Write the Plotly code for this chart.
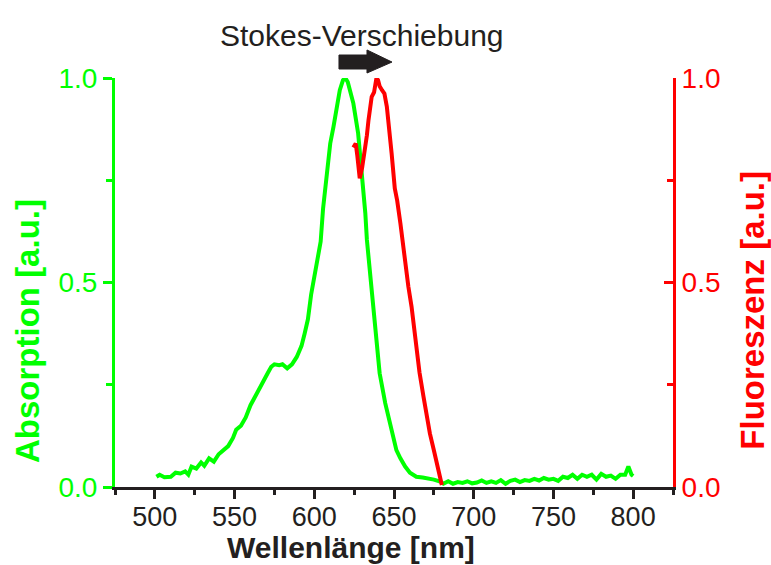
import plotly.graph_objects as go

# Absorption spectrum (green, left axis)
abs_wl = [501, 503, 506, 510, 513, 516, 519, 521, 523, 526, 529, 531, 534, 537, 540,
          543, 546, 549, 551, 554, 557, 560, 562, 565, 568, 571, 573, 575, 578, 580,
          583, 586, 589, 592, 594, 596, 598, 600, 602, 604, 605.5, 608, 610, 612, 614,
          616, 618, 619.5, 621, 623, 624.5, 627.5, 630, 632, 633, 636, 638, 641, 644.5,
          647.5, 649, 651.5, 654, 657, 660, 664, 668, 672.5, 675, 679, 681, 684, 687,
          690, 693, 696, 699, 702, 705, 708, 711, 714, 717, 720, 723, 726, 729, 732,
          735, 738, 741, 744, 747, 750, 753, 756, 759, 762, 765, 768, 771, 774, 777,
          780, 783, 786, 789, 792, 795, 797, 799, 800]
abs_val = [0.025, 0.03, 0.024, 0.025, 0.035, 0.033, 0.038, 0.03, 0.05, 0.045, 0.06, 0.052,
           0.07, 0.062, 0.08, 0.09, 0.1, 0.12, 0.14, 0.15, 0.17, 0.2, 0.215, 0.24, 0.262,
           0.28, 0.294, 0.3, 0.298, 0.3, 0.29, 0.3, 0.318, 0.345, 0.376, 0.41, 0.47, 0.51,
           0.55, 0.6, 0.68, 0.775, 0.84, 0.88, 0.93, 0.97, 0.995, 1.0, 0.99, 0.965, 0.938,
           0.865, 0.77, 0.67, 0.604, 0.482, 0.384, 0.278, 0.205, 0.156, 0.125, 0.09, 0.07,
           0.05, 0.035, 0.025, 0.023, 0.021, 0.018, 0.013, 0.008, 0.014, 0.008, 0.012,
           0.01, 0.014, 0.009, 0.011, 0.016, 0.01, 0.014, 0.01, 0.017, 0.008, 0.015,
           0.018, 0.012, 0.017, 0.015, 0.02, 0.016, 0.022, 0.018, 0.02, 0.015, 0.025,
           0.022, 0.03, 0.02, 0.03, 0.025, 0.03, 0.018, 0.032, 0.025, 0.028, 0.02, 0.03,
           0.03, 0.05, 0.03, 0.027]

# Fluorescence spectrum (red, right axis)
flu_wl = [624.5, 626, 627, 628.5, 630, 631.5, 633, 634, 635, 636, 637.5, 639, 640, 641,
          642.5, 644, 645.5, 646.5, 648.5, 650.5, 652, 654, 657, 659, 661, 664, 666,
          668.5, 670.5, 672.5, 675, 677, 679, 680]
flu_val = [0.83, 0.84, 0.81, 0.755, 0.78, 0.816, 0.86, 0.897, 0.93, 0.954, 0.965, 1.0,
           0.995, 0.98, 0.97, 0.962, 0.93, 0.897, 0.816, 0.73, 0.7, 0.645, 0.539, 0.49,
           0.441, 0.335, 0.28, 0.221, 0.175, 0.131, 0.09, 0.058, 0.025, 0.005]

x_ticks = [500, 550, 600, 650, 700, 750, 800]
y_ticks = [0.0, 0.5, 1.0]

GREEN = "#00ff00"
RED = "#ff0000"
BLACK = "#231f20"
FONT = "Liberation Sans, Arial, sans-serif"

fig = go.Figure()
fig.add_trace(go.Scatter(x=abs_wl, y=abs_val, mode="lines",
                         line=dict(color=GREEN, width=4), cliponaxis=False,
                         showlegend=False, yaxis="y"))
fig.add_trace(go.Scatter(x=flu_wl, y=flu_val, mode="lines",
                         line=dict(color=RED, width=4), cliponaxis=False,
                         showlegend=False, yaxis="y2"))

fig.update_layout(
    width=771, height=565,
    margin=dict(l=115, r=98, t=78, b=78),
    paper_bgcolor="white", plot_bgcolor="white",
    font=dict(family=FONT, size=27, color=BLACK),
    xaxis=dict(range=[475, 825], tickvals=x_ticks, showgrid=False, zeroline=False,
               showline=True, linecolor=BLACK, linewidth=3,
               ticks="outside", ticklen=9, tickwidth=3, tickcolor=BLACK,
               ticklabelstandoff=-5,
               tickfont=dict(size=27, color=BLACK),
               minor=dict(tick0=475, dtick=25, ticks="outside", ticklen=5,
                          tickwidth=3, tickcolor=BLACK)),
    yaxis=dict(range=[0, 1], tickvals=y_ticks, tickformat=".1f", showgrid=False,
               zeroline=False, showline=True, linecolor=GREEN, linewidth=3,
               ticks="outside", ticklen=9, tickwidth=3, tickcolor=GREEN,
               tickfont=dict(size=28, color=GREEN),
               minor=dict(tick0=0, dtick=0.25, ticks="outside", ticklen=6,
                          tickwidth=3, tickcolor=GREEN)),
    yaxis2=dict(range=[0, 1], tickvals=y_ticks, tickformat=".1f", overlaying="y",
                side="right", showgrid=False, zeroline=False, showline=True,
                linecolor=RED, linewidth=3, ticks="inside", ticklen=9, tickwidth=3,
                tickcolor=RED, tickfont=dict(size=28, color=RED),
                minor=dict(tick0=0, dtick=0.25, ticks="inside", ticklen=6,
                           tickwidth=3, tickcolor=RED)),
    annotations=[
        dict(text="Stokes-Verschiebung", xref="paper", yref="paper", x=0.4427, y=1.105,
             xanchor="center", yanchor="middle", showarrow=False,
             font=dict(size=30, color=BLACK, family=FONT)),
        dict(text="<b>Wellenlänge [nm]</b>", xref="paper", yref="paper", x=0.423, y=-0.147,
             xanchor="center", yanchor="middle", showarrow=False,
             font=dict(size=30, color=BLACK, family=FONT)),
        dict(text="<b>Absorption [a.u.]</b>", xref="paper", yref="paper", x=-0.158, y=0.381,
             xanchor="center", yanchor="middle", showarrow=False, textangle=-90,
             font=dict(size=33, color=GREEN, family=FONT)),
        dict(text="<b>Fluoreszenz [a.u.]</b>", xref="paper", yref="paper", x=1.143, y=0.433,
             xanchor="center", yanchor="middle", showarrow=False, textangle=-90,
             font=dict(size=33, color=RED, family=FONT)),
    ],
    shapes=[
        dict(type="path", xref="paper", yref="paper", layer="above",
             path="M 0.4014 1.0562 L 0.4516 1.0562 L 0.4516 1.0685 L 0.4964 1.039 "
                  "L 0.4516 1.0122 L 0.4516 1.022 L 0.4014 1.022 Z",
             fillcolor=BLACK, line=dict(color=BLACK, width=1)),
    ],
)

fig.write_html("out.html", config={"displayModeBar": False},
               post_script="document.body.style.margin='0';document.body.style.padding='0';")
